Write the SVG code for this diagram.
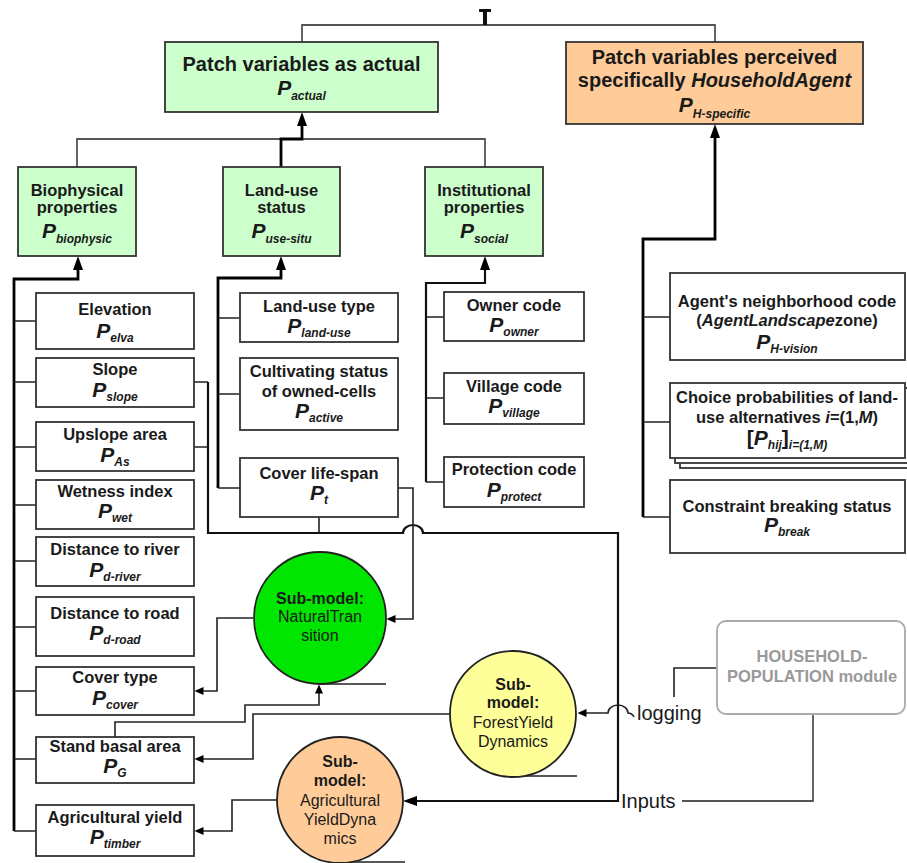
<svg xmlns="http://www.w3.org/2000/svg" width="907" height="863" viewBox="0 0 907 863">
  <defs>
    <style>
      .box { stroke: #333; stroke-width: 1.8; fill: #fff; }
      .grn { fill: #ccffcc; }
      .org { fill: #ffcc99; }
      text { font-family: "Liberation Sans", Arial, sans-serif; fill: #1a1a1a; text-anchor: middle; }
      .t { font-size: 16.5px; font-weight: bold; }
      .h { font-size: 20px; font-weight: bold; }
      .c { font-size: 16px; }
      .b { font-weight: bold; }
      .P { font-size: 21px; font-weight: bold; font-style: italic; }
      .br { font-size: 21px; font-weight: bold; }
      .s { font-size: 12px; font-weight: bold; font-style: italic; }
      .i { font-style: italic; }
      .lbl { font-size: 20px; text-anchor: start; }
      .gray { fill: #999; }
      .thin { fill: none; stroke: #222; stroke-width: 1.6; }
      .thick { fill: none; stroke: #000; stroke-width: 2.8; }
      .mid { fill: none; stroke: #111; stroke-width: 2.2; }
      .gline { fill: none; stroke: #555; stroke-width: 1.8; }
      .circ { stroke: #222; stroke-width: 1.8; }
    </style>
    <marker id="a" viewBox="0 0 9 8" refX="0.5" refY="4" markerWidth="9" markerHeight="8" markerUnits="userSpaceOnUse" orient="auto">
      <path d="M0,0 L9,4 L0,8 z" fill="#000"/>
    </marker>
    <marker id="ab" viewBox="0 0 14 10" refX="1" refY="5" markerWidth="14" markerHeight="10" markerUnits="userSpaceOnUse" orient="auto">
      <path d="M0,0 L14,5 L0,10 z" fill="#000"/>
    </marker>
  </defs>

  <!-- connectors -->
  <g id="connectors">
    <!-- top bus joining the two headers -->
    <path class="gline" d="M302,42 V25 H715 V42"/>
    <rect x="483" y="12" width="4" height="13" fill="#111"/>
    <rect x="479" y="9" width="12" height="3" fill="#111"/>

    <!-- category boxes to Patch variables as actual -->
    <path class="gline" d="M77,167 V139 H485 V167"/>
    <path class="thick" d="M281,167 V139 H302 V125" marker-end="url(#ab)"/>

    <!-- biophysical column -->
    <path class="thick" d="M14,831 V279 H78 V269" marker-end="url(#ab)"/>
    <path class="thin" d="M14,321 H36 M14,382 H36 M14,447 H36 M14,505 H36 M14,561 H36 M14,627 H36 M14,691 H36 M14,759 H36 M14,831 H36"/>

    <!-- land-use column -->
    <path class="thick" d="M218,488 V278 H281 V269" marker-end="url(#ab)"/>
    <path class="thin" d="M218,318 H240 M218,394 H240 M218,488 H240"/>

    <!-- institutional column -->
    <path class="mid" d="M426,482 V283 H485 V269" marker-end="url(#ab)"/>
    <path class="thin" d="M426,317 H444 M426,398 H444 M426,482 H444"/>

    <!-- household-specific column -->
    <path class="thick" d="M643,517 V239 H715 V137" marker-end="url(#ab)"/>
    <path class="thin" d="M643,317 H670 M643,422 H670 M643,517 H670"/>

    <!-- slope / upslope / life-span into the inputs line -->
    <path class="thin" d="M194,382 H208 M194,447 H208 M319,517 V533"/>
    <path class="mid" d="M208,382 V533 H403 A10,8 0 0 1 423,533 H618 V801 H416" marker-end="url(#ab)"/>

    <!-- cover life-span to NaturalTransition -->
    <path class="thin" d="M398,488 H413 V619 H395" marker-end="url(#a)"/>

    <!-- NaturalTransition to cover type -->
    <path class="thin" d="M253,618 H217 V691 H203" marker-end="url(#a)"/>

    <!-- stand basal area to NaturalTransition -->
    <path class="thin" d="M115,737 V722 H245 V705 H319 V693" marker-end="url(#a)"/>

    <!-- ForestYieldDynamics to stand basal area -->
    <path class="thin" d="M450,714 H253 V759 H203" marker-end="url(#a)"/>

    <!-- AgriculturalYieldDynamics to agricultural yield -->
    <path class="thin" d="M277,800 H232 V831 H203" marker-end="url(#a)"/>

    <!-- logging link from household module -->
    <path class="thin" d="M717,668 H674 V697"/>
    <path class="thin" d="M634,717 Q632,713 628,713 A10,8 0 0 0 608,713 H586" marker-end="url(#a)"/>

    <!-- inputs link from household module -->
    <path class="gline" d="M813,714 V801 H682"/>

    <!-- base strokes under the sub-model circles -->
    <path class="thin" d="M320,684 H386 M513,776 H577 M340,862 H405"/>

    <text class="lbl" x="637" y="720">logging</text>
    <text class="lbl" x="621" y="808">Inputs</text>
  </g>

  <!-- header nodes -->
  <g id="patch-actual">
    <rect class="box grn" x="165" y="42" width="273" height="70"/>
    <text class="h" x="301.5" y="71">Patch variables as actual</text>
    <text x="301.5" y="95"><tspan class="P">P</tspan><tspan class="s" dy="5">actual</tspan></text>
  </g>

  <g id="patch-household">
    <rect class="box org" x="566" y="42" width="297" height="82"/>
    <text class="h" x="714.5" y="64">Patch variables perceived</text>
    <text class="h" x="714.5" y="87">specifically <tspan class="i">HouseholdAgent</tspan></text>
    <text x="714.5" y="112"><tspan class="P">P</tspan><tspan class="s" dy="6">H-specific</tspan></text>
  </g>

  <!-- category nodes -->
  <g id="biophysical">
    <rect class="box grn" x="18" y="167" width="118" height="89"/>
    <text class="t" x="77" y="196">Biophysical</text>
    <text class="t" x="77" y="213">properties</text>
    <text x="77" y="238"><tspan class="P">P</tspan><tspan class="s" dy="5">biophysic</tspan></text>
  </g>

  <g id="landuse-status">
    <rect class="box grn" x="223" y="167" width="117" height="89"/>
    <text class="t" x="281.5" y="196">Land-use</text>
    <text class="t" x="281.5" y="213">status</text>
    <text x="281.5" y="238"><tspan class="P">P</tspan><tspan class="s" dy="5">use-situ</tspan></text>
  </g>

  <g id="institutional">
    <rect class="box grn" x="425" y="167" width="118" height="89"/>
    <text class="t" x="484" y="196">Institutional</text>
    <text class="t" x="484" y="213">properties</text>
    <text x="484" y="238"><tspan class="P">P</tspan><tspan class="s" dy="5">social</tspan></text>
  </g>

  <!-- biophysical variables -->
  <g id="elevation">
    <rect class="box" x="36" y="293" width="158" height="56"/>
    <text class="t" x="115" y="315">Elevation</text>
    <text x="115" y="338"><tspan class="P">P</tspan><tspan class="s" dy="4">elva</tspan></text>
  </g>
  <g id="slope">
    <rect class="box" x="36" y="358" width="158" height="49"/>
    <text class="t" x="115" y="375">Slope</text>
    <text x="115" y="397"><tspan class="P">P</tspan><tspan class="s" dy="4">slope</tspan></text>
  </g>
  <g id="upslope-area">
    <rect class="box" x="36" y="422" width="158" height="49"/>
    <text class="t" x="115" y="440">Upslope area</text>
    <text x="115" y="462"><tspan class="P">P</tspan><tspan class="s" dy="4">As</tspan></text>
  </g>
  <g id="wetness-index">
    <rect class="box" x="36" y="480" width="158" height="49"/>
    <text class="t" x="115" y="497">Wetness index</text>
    <text x="115" y="518"><tspan class="P">P</tspan><tspan class="s" dy="4">wet</tspan></text>
  </g>
  <g id="distance-river">
    <rect class="box" x="36" y="537" width="158" height="49"/>
    <text class="t" x="115" y="555">Distance to river</text>
    <text x="115" y="577"><tspan class="P">P</tspan><tspan class="s" dy="4">d-river</tspan></text>
  </g>
  <g id="distance-road">
    <rect class="box" x="36" y="597" width="158" height="59"/>
    <text class="t" x="115" y="619">Distance to road</text>
    <text x="115" y="640"><tspan class="P">P</tspan><tspan class="s" dy="4">d-road</tspan></text>
  </g>
  <g id="cover-type">
    <rect class="box" x="36" y="667" width="158" height="48"/>
    <text class="t" x="115" y="683">Cover type</text>
    <text x="115" y="705"><tspan class="P">P</tspan><tspan class="s" dy="4">cover</tspan></text>
  </g>
  <g id="stand-basal-area">
    <rect class="box" x="36" y="737" width="158" height="46"/>
    <text class="t" x="115" y="752">Stand basal area</text>
    <text x="115" y="773"><tspan class="P">P</tspan><tspan class="s" dy="4">G</tspan></text>
  </g>
  <g id="agricultural-yield">
    <rect class="box" x="36" y="805" width="158" height="51"/>
    <text class="t" x="115" y="823">Agricultural yield</text>
    <text x="115" y="844"><tspan class="P">P</tspan><tspan class="s" dy="4">timber</tspan></text>
  </g>

  <!-- land-use variables -->
  <g id="landuse-type">
    <rect class="box" x="240" y="293" width="158" height="49"/>
    <text class="t" x="319" y="312">Land-use type</text>
    <text x="319" y="333"><tspan class="P">P</tspan><tspan class="s" dy="4">land-use</tspan></text>
  </g>
  <g id="cultivating-status">
    <rect class="box" x="240" y="358" width="158" height="72"/>
    <text class="t" x="319" y="377">Cultivating status</text>
    <text class="t" x="319" y="397">of owned-cells</text>
    <text x="319" y="418"><tspan class="P">P</tspan><tspan class="s" dy="4">active</tspan></text>
  </g>
  <g id="cover-lifespan">
    <rect class="box" x="240" y="458" width="158" height="59"/>
    <text class="t" x="319" y="479">Cover life-span</text>
    <text x="319" y="500"><tspan class="P">P</tspan><tspan class="s" dy="4">t</tspan></text>
  </g>

  <!-- institutional variables -->
  <g id="owner-code">
    <rect class="box" x="444" y="292" width="140" height="49"/>
    <text class="t" x="514" y="311">Owner code</text>
    <text x="514" y="332"><tspan class="P">P</tspan><tspan class="s" dy="4">owner</tspan></text>
  </g>
  <g id="village-code">
    <rect class="box" x="444" y="373" width="140" height="51"/>
    <text class="t" x="514" y="392">Village code</text>
    <text x="514" y="413"><tspan class="P">P</tspan><tspan class="s" dy="4">village</tspan></text>
  </g>
  <g id="protection-code">
    <rect class="box" x="444" y="457" width="140" height="50"/>
    <text class="t" x="514" y="475">Protection code</text>
    <text x="514" y="497"><tspan class="P">P</tspan><tspan class="s" dy="4">protect</tspan></text>
  </g>

  <!-- household-specific variables -->
  <g id="neighborhood-code">
    <rect class="box" x="670" y="273" width="235" height="87"/>
    <text class="t" x="787" y="307">Agent's neighborhood code</text>
    <text class="t" x="787" y="326">(<tspan class="i">AgentLandscape</tspan>zone)</text>
    <text x="787" y="349"><tspan class="P">P</tspan><tspan class="s" dy="4">H-vision</tspan></text>
  </g>
  <g id="choice-probabilities">
    <rect class="box" x="680" y="393" width="235" height="75"/>
    <rect class="box" x="675" y="388" width="235" height="75"/>
    <rect class="box" x="670" y="383" width="235" height="75"/>
    <text class="t" x="787" y="403">Choice probabilities of land-</text>
    <text class="t" x="787" y="423">use alternatives <tspan class="i">i</tspan>=(1,<tspan class="i">M</tspan>)</text>
    <text x="787" y="445"><tspan class="br">[</tspan><tspan class="P">P</tspan><tspan class="s" dy="4">hij</tspan><tspan class="br" dy="-4">]</tspan><tspan class="s" dy="4">i=(1,M)</tspan></text>
  </g>
  <g id="constraint-breaking">
    <rect class="box" x="670" y="480" width="235" height="73"/>
    <text class="t" x="787" y="512">Constraint breaking status</text>
    <text x="787" y="532"><tspan class="P">P</tspan><tspan class="s" dy="4">break</tspan></text>
  </g>

  <!-- household module -->
  <g id="household-population">
    <rect x="717" y="621" width="188" height="93" rx="9" fill="#fff" stroke="#aaa" stroke-width="1.8"/>
    <text class="t gray" x="812" y="662">HOUSEHOLD-</text>
    <text class="t gray" x="812" y="682">POPULATION module</text>
  </g>

  <!-- sub-models -->
  <g id="natural-transition">
    <circle class="circ" cx="320" cy="618" r="66" fill="#00e600"/>
    <text class="c b" x="320" y="604">Sub-model:</text>
    <text class="c" x="320" y="622">NaturalTran</text>
    <text class="c" x="320" y="641">sition</text>
  </g>
  <g id="forest-yield">
    <circle class="circ" cx="513" cy="714" r="63" fill="#ffff99"/>
    <text class="c b" x="513" y="690">Sub-</text>
    <text class="c b" x="513" y="708">model:</text>
    <text class="c" x="513" y="728">ForestYield</text>
    <text class="c" x="513" y="747">Dynamics</text>
  </g>
  <g id="agricultural-yield-dynamics">
    <circle class="circ" cx="340" cy="800" r="63" fill="#ffcc99"/>
    <text class="c b" x="340" y="767">Sub-</text>
    <text class="c b" x="340" y="786">model:</text>
    <text class="c" x="340" y="806">Agricultural</text>
    <text class="c" x="340" y="825">YieldDyna</text>
    <text class="c" x="340" y="844">mics</text>
  </g>
</svg>
